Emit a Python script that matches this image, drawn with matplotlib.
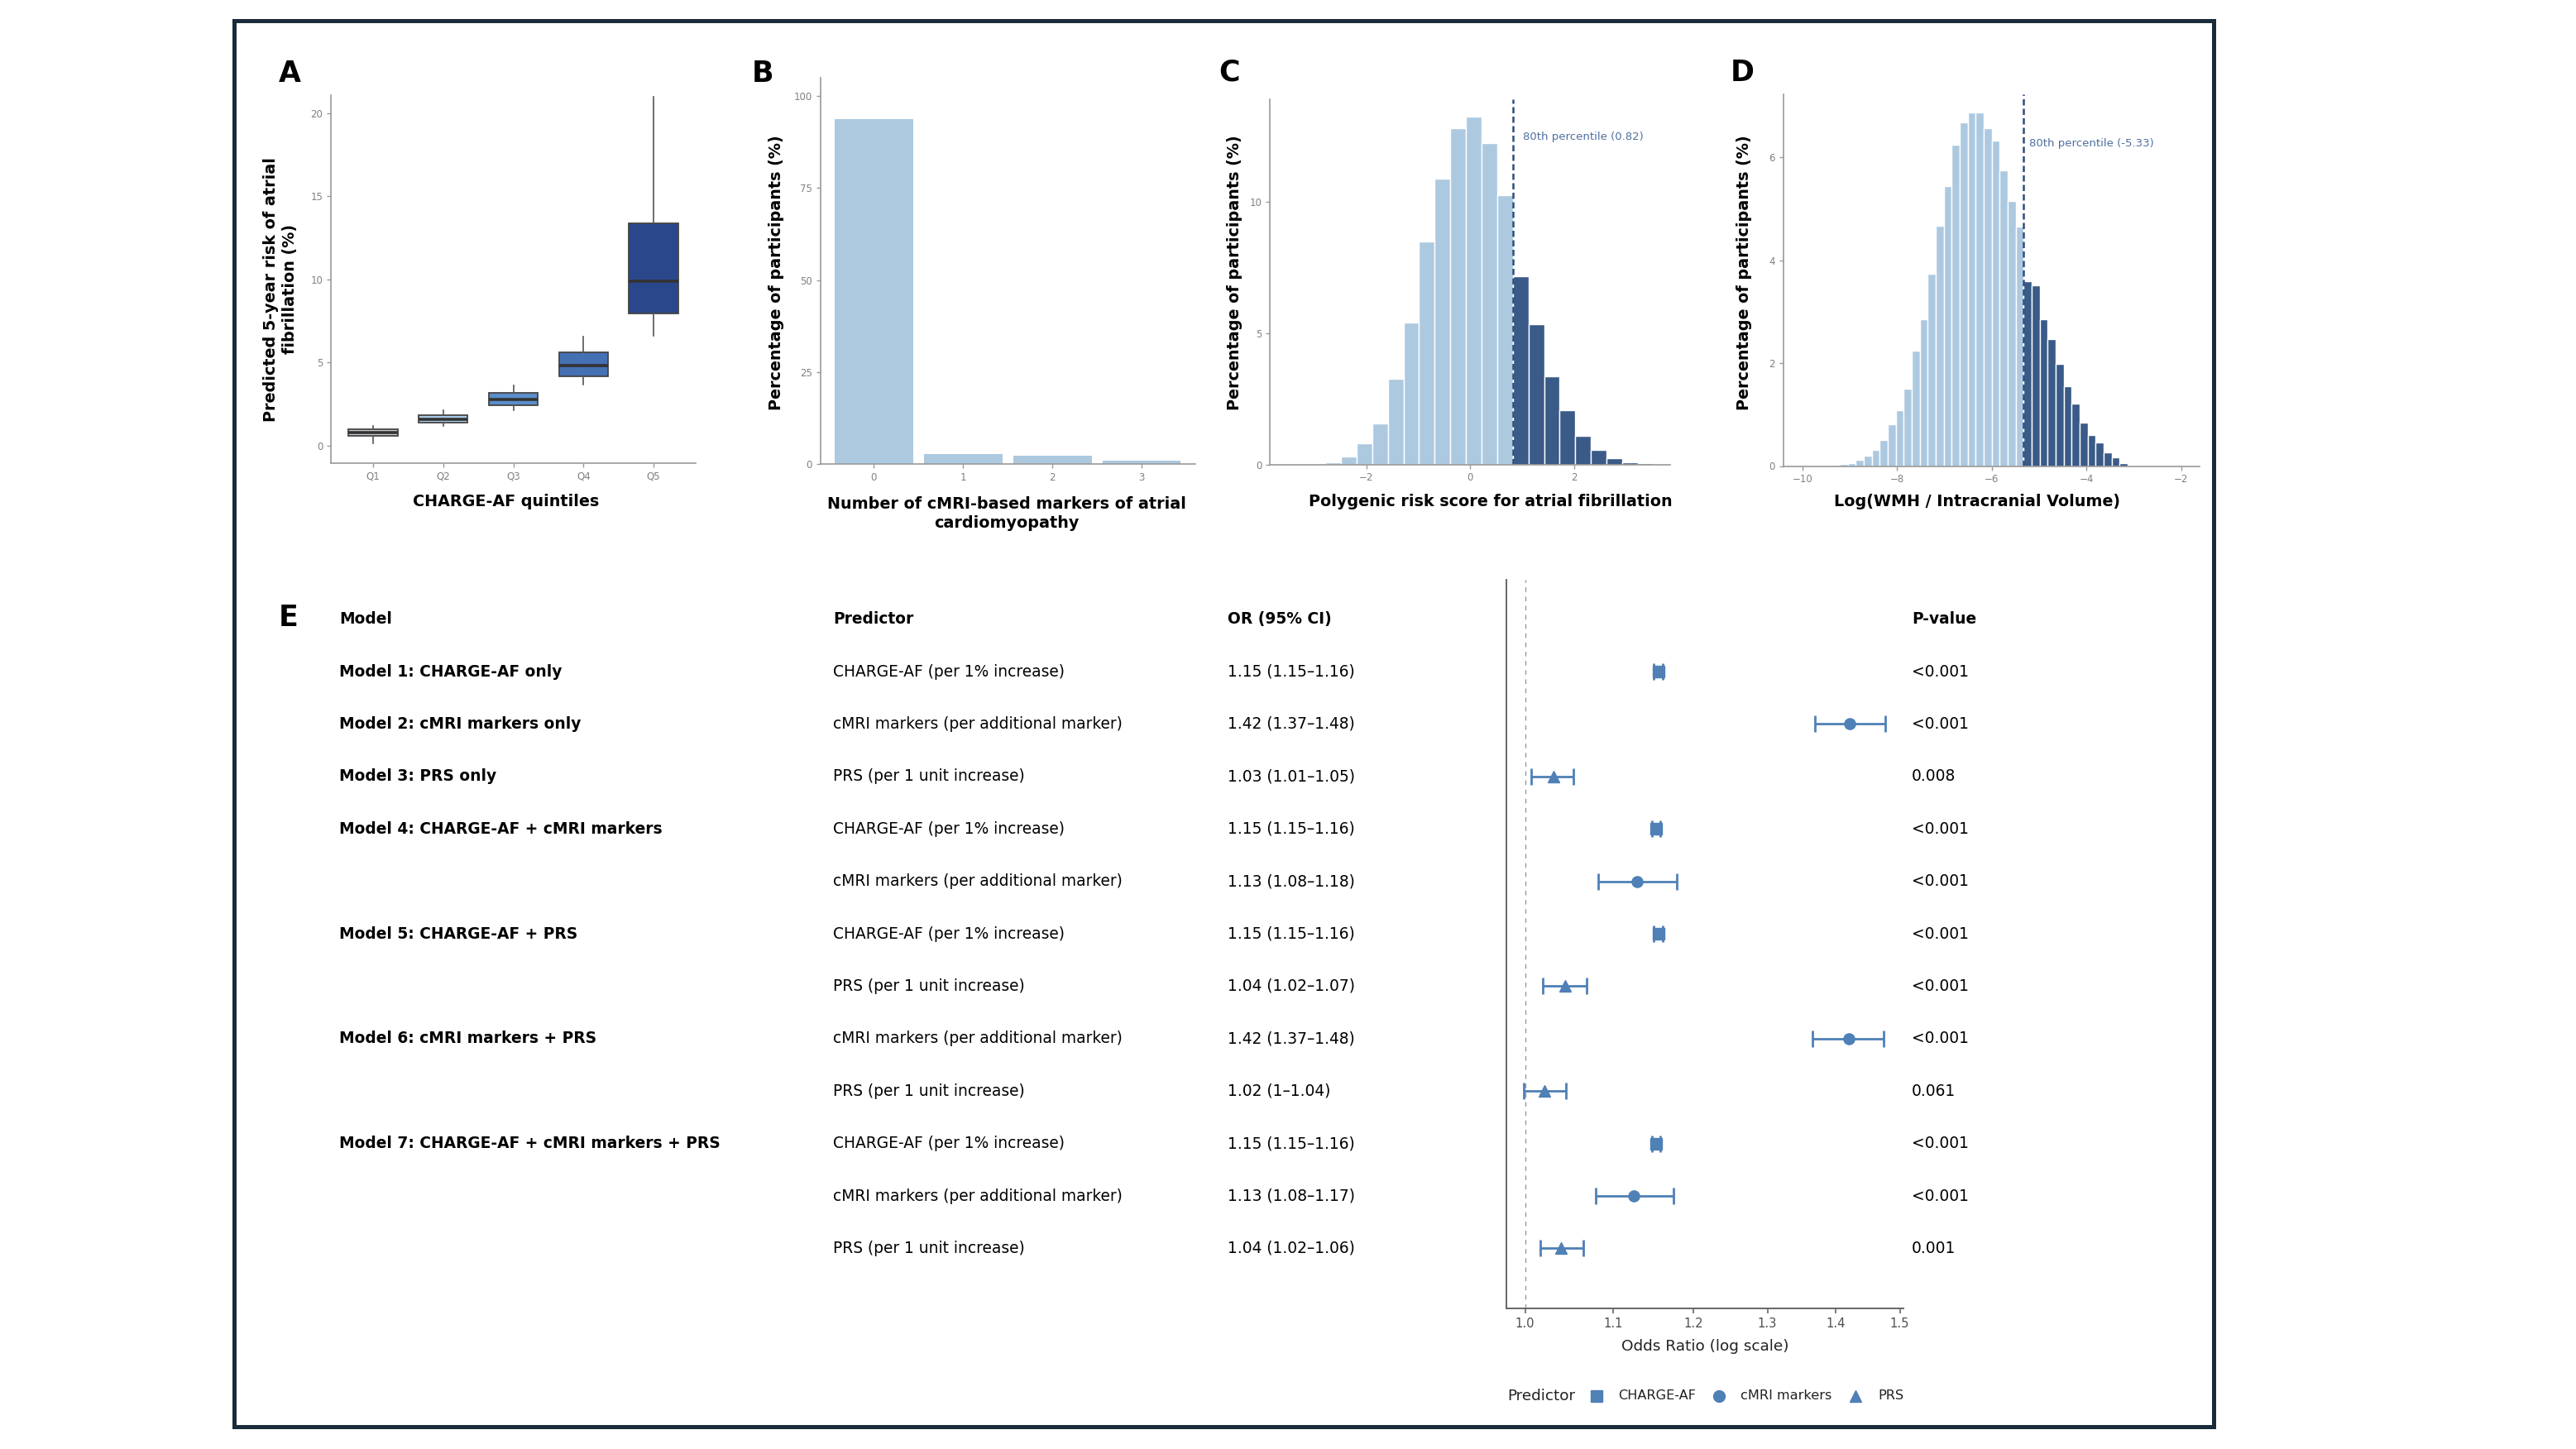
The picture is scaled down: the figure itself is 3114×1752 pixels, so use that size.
import numpy as np
import matplotlib
matplotlib.use("Agg")
import matplotlib.pyplot as plt
from matplotlib import transforms
from matplotlib.lines import Line2D
from matplotlib.patches import Rectangle

W, H = 3114, 1752

# ---- A: predicted 5-year AF risk by CHARGE-AF quintile
a_cats = ["Q1", "Q2", "Q3", "Q4", "Q5"]
a_whislo = [0.15, 1.17, 2.11, 3.65, 6.60]
a_q1 = [0.58, 1.37, 2.42, 4.15, 7.96]
a_med = [0.79, 1.60, 2.79, 4.82, 9.89]
a_q3 = [0.99, 1.85, 3.17, 5.60, 13.37]
a_whishi = [1.19, 2.13, 3.64, 6.58, 21.0]
a_colors = ["#c6cbd1", "#a9cbe6", "#5b8dc8", "#4570b3", "#2b478c"]

# ---- B: number of cMRI markers
b_cats = [0, 1, 2, 3]
b_pct = [93.8, 2.8, 2.2, 0.9]

# ---- C: PRS histogram (bins split at 80th percentile)
c_thr = 0.82
c_binw = 0.301
c_low = [0.09, 0.29, 0.82, 1.56, 3.26, 5.39, 8.48, 10.88, 12.79, 13.23, 12.22, 10.25]
c_high = [7.15, 5.33, 3.36, 2.07, 1.09, 0.56, 0.25, 0.08, 0.05]

# ---- D: log(WMH / ICV) histogram
d_thr = -5.33
d_binw = 0.169
d_low = [0.01, 0.03, 0.04, 0.06, 0.12, 0.20, 0.32, 0.50, 0.81, 1.08, 1.50, 2.24, 2.85,
         3.74, 4.67, 5.44, 6.24, 6.67, 6.87, 6.87, 6.56, 6.32, 5.75, 5.15, 4.65]
d_high = [3.59, 3.51, 2.85, 2.47, 1.98, 1.55, 1.22, 0.85, 0.61, 0.46, 0.27, 0.17, 0.05, 0.01]

# ---- E: logistic models
e_model = ["Model 1: CHARGE-AF only", "Model 2: cMRI markers only", "Model 3: PRS only",
           "Model 4: CHARGE-AF + cMRI markers", "", "Model 5: CHARGE-AF + PRS", "",
           "Model 6: cMRI markers + PRS", "", "Model 7: CHARGE-AF + cMRI markers + PRS", "", ""]
e_type = ["CHARGE-AF", "cMRI markers", "PRS", "CHARGE-AF", "cMRI markers", "CHARGE-AF", "PRS",
          "cMRI markers", "PRS", "CHARGE-AF", "cMRI markers", "PRS"]
e_pred = {"CHARGE-AF": "CHARGE-AF (per 1% increase)",
          "cMRI markers": "cMRI markers (per additional marker)",
          "PRS": "PRS (per 1 unit increase)"}
e_or_txt = ["1.15 (1.15–1.16)", "1.42 (1.37–1.48)", "1.03 (1.01–1.05)", "1.15 (1.15–1.16)",
            "1.13 (1.08–1.18)", "1.15 (1.15–1.16)", "1.04 (1.02–1.07)", "1.42 (1.37–1.48)",
            "1.02 (1–1.04)", "1.15 (1.15–1.16)", "1.13 (1.08–1.17)", "1.04 (1.02–1.06)"]
e_p = ["<0.001", "<0.001", "0.008", "<0.001", "<0.001", "<0.001", "<0.001", "<0.001",
       "0.061", "<0.001", "<0.001", "0.001"]
e_or = [1.155, 1.421, 1.031, 1.152, 1.129, 1.155, 1.044, 1.419, 1.021, 1.152, 1.125, 1.040]
e_lo = [1.149, 1.368, 1.007, 1.147, 1.082, 1.149, 1.019, 1.365, 0.999, 1.147, 1.079, 1.017]
e_hi = [1.161, 1.477, 1.054, 1.158, 1.178, 1.161, 1.069, 1.474, 1.045, 1.158, 1.174, 1.065]
e_marker = {"CHARGE-AF": "s", "cMRI markers": "o", "PRS": "^"}

LIGHT = "#acc9e0"
DARK = "#3a5a88"
FOREST = "#4f80b6"
TICK = "#808080"
SPINE = "#9a9a9a"

fig = plt.figure(figsize=(W / 100, H / 100), dpi=100)


def px_axes(l, t, r, b):
    return fig.add_axes([l / W, 1 - b / H, (r - l) / W, (b - t) / H])


def ftext(x, y, s, **kw):
    fig.text(x / W, 1 - y / H, s, **kw)


def style(ax):
    for s in ["top", "right"]:
        ax.spines[s].set_visible(False)
    for s in ["left", "bottom"]:
        ax.spines[s].set_color(SPINE)
        ax.spines[s].set_linewidth(1.2)
    ax.tick_params(colors=SPINE, labelcolor=TICK, labelsize=8.5, length=3.5, width=1)


# A
axA = px_axes(400, 115.5, 841, 560)
stats = [dict(label=c, whislo=lo, q1=q1, med=m, q3=q3, whishi=hi)
         for c, lo, q1, m, q3, hi in zip(a_cats, a_whislo, a_q1, a_med, a_q3, a_whishi)]
pos = np.arange(1, len(a_cats) + 1)
bp = axA.bxp(stats, positions=pos, widths=0.7, patch_artist=True, showfliers=False, showcaps=False,
             boxprops=dict(edgecolor="#444444", linewidth=1.3),
             medianprops=dict(color="#333333", linewidth=2.6),
             whiskerprops=dict(color="#555555", linewidth=1.2))
for patch, col in zip(bp["boxes"], a_colors):
    patch.set_facecolor(col)
axA.set_xlim(0.4, 5.6)
axA.set_ylim(-1.05, 21.05)
axA.set_yticks([0, 5, 10, 15, 20])
style(axA)

# B
axB = px_axes(991.6, 94, 1445, 561)
axB.bar(b_cats, b_pct, width=0.875, color=LIGHT)
axB.set_xlim(-0.6, 3.6)
axB.set_ylim(0, 105)
axB.set_xticks(b_cats)
axB.set_yticks([0, 25, 50, 75, 100])
style(axB)


def split_hist(ax, thr, w, low, high):
    left_low = thr - w * np.arange(len(low), 0, -1)
    left_high = thr + w * np.arange(len(high))
    ax.bar(left_low, low, width=w, align="edge", color=LIGHT, edgecolor="white", linewidth=1)
    ax.bar(left_high, high, width=w, align="edge", color=DARK, edgecolor="white", linewidth=1)
    ax.axvline(thr, color="#2f4d7c", lw=1.8, dashes=(3, 1.6))


# C
axC = px_axes(1535, 120, 2019, 561.6)
split_hist(axC, c_thr, c_binw, c_low, c_high)
axC.set_xlim(-3.86, 3.85)
axC.set_ylim(0, 13.9)
axC.set_xticks([-2, 0, 2])
axC.set_yticks([0, 5, 10])
axC.annotate(f"80th percentile ({c_thr:.2f})", xy=(c_thr, 12.47), xytext=(9, 0),
             textcoords="offset points", va="center", color="#4f6f9f", fontsize=9.5)
style(axC)

# D
axD = px_axes(2155.6, 113.5, 2659, 563.5)
split_hist(axD, d_thr, d_binw, d_low, d_high)
axD.set_xlim(-10.41, -1.61)
axD.set_ylim(0, 7.23)
axD.set_xticks([-10, -8, -6, -4, -2])
axD.set_yticks([0, 2, 4, 6])
axD.annotate(f"80th percentile ({d_thr:.2f})", xy=(d_thr, 6.27), xytext=(5, 0),
             textcoords="offset points", va="center", color="#4f6f9f", fontsize=9.5)
style(axD)

# axis titles of the top row
lab = dict(fontsize=13.8, fontweight="bold", color="black", ha="center", va="center")
ftext(339, 350, "Predicted 5-year risk of atrial\nfibrillation (%)", rotation=90, linespacing=1.3, **lab)
ftext(612, 606, "CHARGE-AF quintiles", **lab)
ftext(938, 330, "Percentage of participants (%)", rotation=90, **lab)
ftext(1217, 621, "Number of cMRI-based markers of atrial\ncardiomyopathy", linespacing=1.3, **lab)
ftext(1492, 330, "Percentage of participants (%)", rotation=90, **lab)
ftext(1802, 606, "Polygenic risk score for atrial fibrillation", **lab)
ftext(2109, 330, "Percentage of participants (%)", rotation=90, **lab)
ftext(2390, 606, "Log(WMH / Intracranial Volume)", **lab)

for letter, x, y in [("A", 350, 89), ("B", 922, 89), ("C", 1486, 88), ("D", 2106, 88), ("E", 349, 747)]:
    ftext(x, y, letter, fontsize=25, fontweight="bold", ha="center", va="center")

# E: forest plot
axF = px_axes(1821, 700.5, 2301, 1582.3)
rows = np.arange(1, len(e_or) + 1)
axF.axvline(1.0, color="#999999", lw=1.0, dashes=(4, 4))
for r, t, o, lo, hi in zip(rows, e_type, e_or, e_lo, e_hi):
    axF.errorbar(o, r, xerr=[[o - lo], [hi - o]], fmt=e_marker[t], color=FOREST, ms=9.5,
                 elinewidth=2.0, capsize=7, capthick=2.0)
axF.set_xscale("log")
axF.set_xlim(0.98, 1.506)
axF.set_ylim(13.15, -0.76)
xt = [1.0, 1.1, 1.2, 1.3, 1.4, 1.5]
axF.set_xticks(xt)
axF.set_xticklabels([f"{v:.1f}" for v in xt])
axF.xaxis.set_minor_locator(matplotlib.ticker.NullLocator())
axF.set_yticks([])
for s in ["top", "right"]:
    axF.spines[s].set_visible(False)
for s in ["left", "bottom"]:
    axF.spines[s].set_color("#666666")
    axF.spines[s].set_linewidth(1.4)
axF.tick_params(axis="x", colors="#666666", labelcolor="#4d4d4d", labelsize=10.6, length=4, width=1.2)
axF.set_xlabel("Odds Ratio (log scale)", fontsize=13.3, color="#222222", labelpad=8)

tr = transforms.blended_transform_factory(fig.transFigure, axF.transData)
cols = [410, 1007, 1484, 2311]
heads = ["Model", "Predictor", "OR (95% CI)", "P-value"]
for x, h in zip(cols, heads):
    fig.text(x / W, 0, h, transform=tr, fontsize=13.4, fontweight="bold", va="center")
for r, m, t, ot, p in zip(rows, e_model, e_type, e_or_txt, e_p):
    fig.text(cols[0] / W, r, m, transform=tr, fontsize=13.4, fontweight="bold", va="center")
    fig.text(cols[1] / W, r, e_pred[t], transform=tr, fontsize=13.4, va="center")
    fig.text(cols[2] / W, r, ot, transform=tr, fontsize=13.4, va="center")
    fig.text(cols[3] / W, r, p, transform=tr, fontsize=13.4, va="center")

# legend row
ly = 1688
ftext(1822, ly, "Predictor", fontsize=13.2, va="center", color="#222222")
for key, mx, tx in [("CHARGE-AF", 1930, 1956), ("cMRI markers", 2078, 2104), ("PRS", 2243, 2270)]:
    fig.add_artist(Line2D([mx / W], [1 - ly / H], transform=fig.transFigure, marker=e_marker[key],
                          color=FOREST, ms=10, lw=0))
    ftext(tx, ly, key, fontsize=11.6, va="center", color="#222222")

# outer frame
fig.add_artist(Rectangle((282.5 / W, 1 - 1724.5 / H), (2675.5 - 282.5) / W, (1724.5 - 24.5) / H,
                         transform=fig.transFigure, fill=False, edgecolor="#1c2b3a", linewidth=3.6))

fig.savefig("out.png", dpi=100, facecolor="white")
